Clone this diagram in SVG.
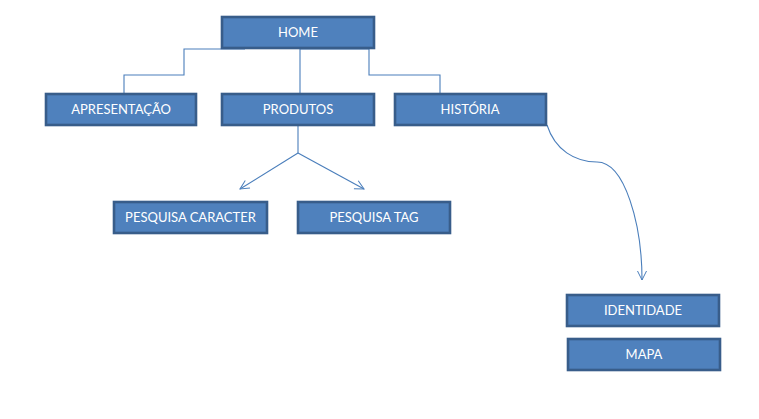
<svg xmlns="http://www.w3.org/2000/svg" width="759" height="419" viewBox="0 0 759 419">
<defs>
<marker id="arr" markerUnits="userSpaceOnUse" markerWidth="14" markerHeight="14" refX="10" refY="6" orient="auto">
<path d="M1,1.5 L10,6 L1,10.5" fill="none" stroke="#4A7EBB" stroke-width="1"/>
</marker>
<style>
.box{fill:#4F81BD;stroke:#385D8A;stroke-width:2.6}
.lbl{font-family:Lato,"Noto Sans","Liberation Sans",sans-serif;font-size:13px;fill:#FFFFFF;text-anchor:middle}
.con{fill:none;stroke:#4A7EBB;stroke-width:1.1}
</style>
</defs>
<rect width="759" height="419" fill="#FFFFFF"/>
<g id="connectors">
<path class="con" d="M245,49 L184,49 L184,75 L124,75 L124,93"/>
<path class="con" d="M300,49 L300,93"/>
<path class="con" d="M300,49 L369,49 L369,75 L440,75 L440,93"/>
<path class="con" d="M298,125 L298,153"/>
<path class="con" d="M298,153 L240,189" marker-end="url(#arr)"/>
<path class="con" d="M298,153 L364,189" marker-end="url(#arr)"/>
<path class="con" d="M547,125 C555,150 575,162 597,162 C625,162 642,225 642,280" marker-end="url(#arr)"/>
</g>
<g id="home"><rect class="box" x="222" y="17" width="152" height="31"/><text class="lbl" x="298" y="36.5">HOME</text></g>
<g id="apresentacao"><rect class="box" x="46" y="94" width="150" height="31"/><text class="lbl" x="121" y="113.5">APRESENTAÇÃO</text></g>
<g id="produtos"><rect class="box" x="222" y="94" width="152" height="31"/><text class="lbl" x="298" y="113.5">PRODUTOS</text></g>
<g id="historia"><rect class="box" x="395" y="94" width="151" height="31"/><text class="lbl" x="470" y="113.5">HISTÓRIA</text></g>
<g id="pesquisa-caracter"><rect class="box" x="114" y="202" width="153" height="31"/><text class="lbl" x="190.5" y="221.5">PESQUISA CARACTER</text></g>
<g id="pesquisa-tag"><rect class="box" x="298" y="202" width="152" height="31"/><text class="lbl" x="374" y="221.5">PESQUISA TAG</text></g>
<g id="identidade"><rect class="box" x="567" y="295" width="152" height="31"/><text class="lbl" x="643" y="314.5">IDENTIDADE</text></g>
<g id="mapa"><rect class="box" x="568" y="339" width="152" height="31"/><text class="lbl" x="644" y="358.5">MAPA</text></g>
</svg>
